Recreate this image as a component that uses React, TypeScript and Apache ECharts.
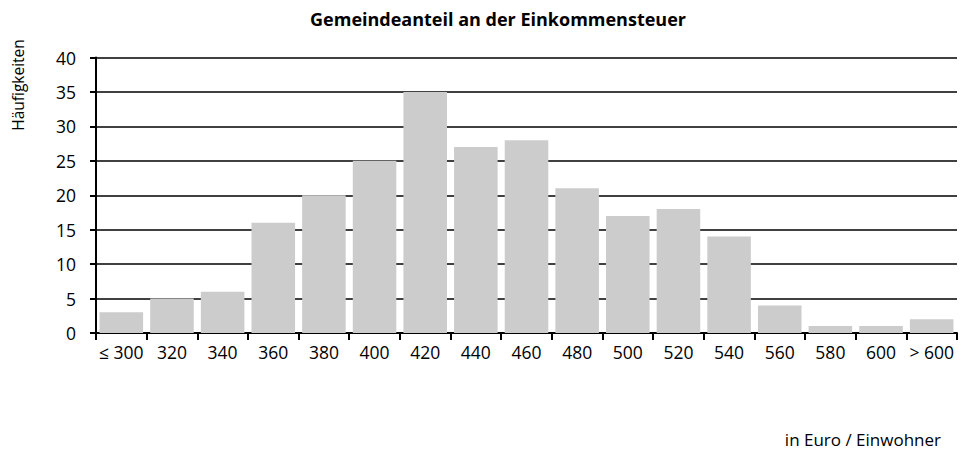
import React, { useEffect, useRef } from "react";
import * as echarts from "echarts";

const categories = ["≤ 300", "320", "340", "360", "380", "400", "420", "440", "460", "480", "500", "520", "540", "560", "580", "600", "> 600"];
const counts = [3, 5, 6, 16, 20, 25, 35, 27, 28, 21, 17, 18, 14, 4, 1, 1, 2];
const titleText = "Gemeindeanteil an der Einkommensteuer";
const yAxisTitle = "Häufigkeiten";
const xAxisTitle = "in Euro / Einwohner";

const FONT = "'Open Sans', 'Noto Sans', sans-serif";

export default function App() {
  const ref = useRef<HTMLDivElement>(null);
  useEffect(() => {
    if (!ref.current) return;
    const chart = echarts.init(ref.current, undefined, { renderer: "svg" });
    chart.setOption({
      animation: false,
      backgroundColor: "#ffffff",
      title: {
        text: titleText,
        left: 493,
        textAlign: "center",
        top: 5,
        textStyle: { fontFamily: FONT, fontWeight: "bold", fontSize: 18, color: "#000" },
      },
      grid: { left: 96, right: 6, top: 57.5, bottom: 119, containLabel: false },
      xAxis: {
        type: "category",
        data: categories,
        axisLine: { show: true, lineStyle: { color: "#000", width: 2 } },
        axisTick: { show: true, alignWithLabel: false, length: 7, lineStyle: { color: "#000", width: 2 } },
        axisLabel: { fontFamily: FONT, fontSize: 17.5, color: "#000", margin: 10, interval: 0 },
      },
      yAxis: {
        type: "value",
        min: 0,
        max: 40,
        interval: 5,
        axisLine: { show: true, lineStyle: { color: "#000", width: 2 } },
        axisTick: { show: true, length: 6, lineStyle: { color: "#000", width: 2 } },
        axisLabel: { fontFamily: FONT, fontSize: 17.5, color: "#000", margin: 20 },
        splitLine: { show: true, lineStyle: { color: "#000", width: 1.6 } },
      },
      series: [
        {
          type: "bar",
          data: counts,
          barCategoryGap: "14%",
          itemStyle: { color: "#cccccc" },
        },
      ],
      graphic: [
        {
          type: "text",
          x: 18,
          y: 85,
          rotation: Math.PI / 2,
          style: {
            text: yAxisTitle,
            fontFamily: FONT,
            fontSize: 15.5,
            fill: "#000",
            align: "center",
            verticalAlign: "middle",
          },
        },
        {
          type: "text",
          x: 941,
          y: 439,
          style: {
            text: xAxisTitle,
            fontFamily: FONT,
            fontSize: 17,
            fill: "#000",
            align: "right",
            verticalAlign: "middle",
          },
        },
      ],
    });
    return () => chart.dispose();
  }, []);
  return (
    <div
      ref={ref}
      style={{ position: "absolute", left: 0, top: 0, width: 963, height: 452 }}
    />
  );
}
